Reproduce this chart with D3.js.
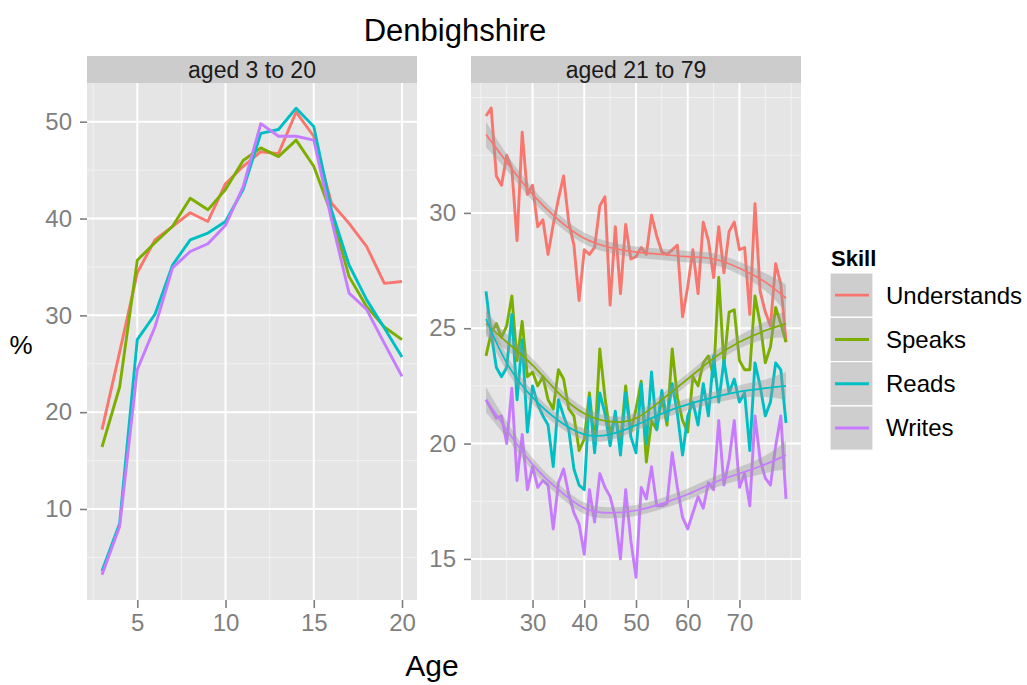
<!DOCTYPE html>
<html lang="en">
<head>
<meta charset="UTF-8">
<title>Denbighshire</title>
<script src="https://d3js.org/d3.v7.min.js"></script>
<style>
  body { margin: 0; background: #fff; }
  text { font-family: "Liberation Sans", Arial, sans-serif; }
</style>
</head>
<body>
<svg id="chart" width="1027" height="685"></svg>
<script>
// ---- data ----
const skills = ["Understands", "Speaks", "Reads", "Writes"];
const colours = ["#F8766D", "#7CAE00", "#00BFC4", "#C77CFF"];

const youngAges = d3.range(3, 21);   // 3..20
const youngUnderstands = [18.2, 26.2, 34.4, 37.8, 39.2, 40.6, 39.7, 43.6, 45.4, 46.9, 46.7, 51.0, 48.5, 41.6, 39.5, 37.1, 33.3, 33.5];
const youngSpeaks      = [16.4, 22.6, 35.7, 37.5, 39.2, 42.1, 40.9, 43.0, 46.0, 47.3, 46.4, 48.1, 45.4, 40.5, 34.0, 30.9, 28.8, 27.5];
const youngReads       = [3.6, 8.5, 27.5, 30.1, 35.2, 37.8, 38.5, 39.7, 43.0, 48.8, 49.2, 51.4, 49.5, 40.9, 35.2, 31.6, 28.7, 25.7];
const youngWrites      = [3.2, 8.2, 24.4, 28.8, 34.9, 36.6, 37.4, 39.3, 43.3, 49.8, 48.5, 48.5, 48.1, 39.9, 32.3, 30.6, 27.1, 23.7];

const oldAges = d3.range(21, 80);    // 21..79
const oldUnderstands = [34.2, 34.55, 31.6, 31.2, 32.5, 31.9, 28.8, 33.5, 30.8, 31.2,
                        29.4, 29.7, 28.2, 29.5, 30.6, 31.6, 29.6, 28.6, 26.2, 28.4,
                        28.2, 28.5, 30.3, 30.7, 26.0, 29.4, 26.5, 29.5, 28.0, 28.1,
                        28.5, 28.2, 29.9, 29.0, 28.3, 28.2, 28.4, 28.6, 25.5, 26.8,
                        28.4, 26.5, 29.6, 28.8, 27.2, 29.4, 27.4, 29.2, 29.6, 28.4,
                        28.5, 25.6, 30.4, 26.6, 25.7, 25.1, 27.8, 26.9, 24.4];
const oldSpeaks = [23.8, 24.8, 25.2, 24.6, 25.1, 26.4, 23.6, 25.3, 22.9, 23.1,
                   22.5, 22.9, 21.9, 21.5, 23.2, 22.8, 21.5, 21.2, 19.7, 20.2,
                   22.2, 19.9, 24.1, 22.0, 20.4, 21.2, 20.0, 22.5, 20.5, 21.5,
                   22.7, 19.2, 21.0, 20.6, 22.0, 20.8, 24.1, 22.0, 21.0, 20.5,
                   22.9, 22.5, 23.5, 23.8, 22.9, 27.2, 23.4, 25.7, 25.8, 23.6,
                   23.2, 23.2, 26.4, 25.2, 23.5, 24.2, 25.9, 25.2, 24.4];
const oldReads = [26.6, 24.8, 23.3, 22.9, 23.3, 25.6, 21.9, 24.5, 20.5, 22.5,
                  21.7, 21.2, 20.8, 19.0, 21.9, 21.2, 20.6, 18.9, 18.2, 18.0,
                  22.0, 19.6, 22.2, 21.3, 19.9, 21.4, 19.5, 22.2, 20.3, 19.6,
                  22.6, 20.0, 23.1, 20.6, 22.3, 21.0, 22.6, 21.3, 19.5, 21.2,
                  21.8, 20.8, 22.6, 21.2, 23.8, 21.8, 23.6, 22.2, 22.8, 21.8,
                  22.2, 19.7, 23.5, 22.5, 21.2, 21.8, 23.5, 23.2, 20.9];
const oldWrites = [21.9, 21.5, 21.1, 21.2, 20.0, 22.4, 18.4, 20.4, 18.0, 19.0,
                   18.1, 18.4, 18.2, 16.3, 18.3, 18.9, 17.8, 17.0, 16.5, 15.2,
                   18.0, 16.6, 18.7, 18.1, 17.7, 16.8, 15.0, 18.0, 15.8, 14.2,
                   18.1, 17.6, 19.0, 17.3, 17.3, 17.4, 19.6, 18.1, 16.8, 16.3,
                   17.0, 17.7, 17.2, 18.3, 18.0, 21.0, 18.2, 19.3, 21.0, 18.1,
                   18.7, 17.3, 21.2, 19.3, 18.5, 18.2, 19.9, 21.2, 17.6];

// loess smooth and half width of its grey band
const smoothAges = [21, 25, 30, 35, 40, 45, 50, 55, 60, 65, 70, 75, 79];
const smoothUnderstands = [33.4, 32.2, 30.8, 29.7, 28.9, 28.5, 28.3, 28.2, 28.1, 28.0, 27.6, 27.0, 26.3];
const smoothSpeaks      = [25.2, 24.4, 23.4, 22.2, 21.3, 20.95, 21.1, 21.9, 22.8, 23.7, 24.4, 24.9, 25.2];
const smoothReads       = [25.4, 23.5, 22.0, 21.0, 20.4, 20.4, 20.8, 21.3, 21.7, 22.0, 22.25, 22.4, 22.5];
const smoothWrites      = [21.9, 20.6, 19.1, 18.0, 17.2, 17.0, 17.1, 17.4, 17.8, 18.3, 18.7, 19.1, 19.5];
const smoothBand        = [0.55, 0.35, 0.28, 0.25, 0.25, 0.24, 0.24, 0.24, 0.25, 0.25, 0.28, 0.38, 0.6];

const youngSeries = [youngUnderstands, youngSpeaks, youngReads, youngWrites];
const oldSeries = [oldUnderstands, oldSpeaks, oldReads, oldWrites];
const smoothSeries = [smoothUnderstands, smoothSpeaks, smoothReads, smoothWrites];

// ---- layout ----
const svg = d3.select("#chart");
const plotTop = 83, plotBottom = 600, stripTop = 56;
const panels = [
  { x0: 87, x1: 417, label: "aged 3 to 20", xdom: [2.15, 20.85], ydom: [0.6, 54.0],
    xt: [5, 10, 15, 20], xm: [2.5, 7.5, 12.5, 17.5], yt: [10, 20, 30, 40, 50], ym: [5, 15, 25, 35, 45] },
  { x0: 471, x1: 801, label: "aged 21 to 79", xdom: [18.1, 81.9], ydom: [13.22, 35.63],
    xt: [30, 40, 50, 60, 70], xm: [20, 25, 35, 45, 55, 65, 75, 80], yt: [15, 20, 25, 30], ym: [17.5, 22.5, 27.5, 32.5, 35] }
];

panels.forEach((p, pi) => {
  const x = d3.scaleLinear().domain(p.xdom).range([p.x0, p.x1]);
  const y = d3.scaleLinear().domain(p.ydom).range([plotBottom, plotTop]);
  const g = svg.append("g");

  // strip
  g.append("rect").attr("x", p.x0).attr("y", stripTop).attr("width", p.x1 - p.x0).attr("height", plotTop - stripTop).attr("fill", "#CCCCCC");
  g.append("text").attr("x", (p.x0 + p.x1) / 2).attr("y", 70).attr("dy", "0.35em")
    .attr("text-anchor", "middle").attr("font-size", 23).attr("fill", "#1A1A1A").text(p.label);

  // panel
  g.append("rect").attr("x", p.x0).attr("y", plotTop).attr("width", p.x1 - p.x0).attr("height", plotBottom - plotTop).attr("fill", "#E5E5E5");
  g.selectAll(".vmin").data(p.xm).enter().append("line")
    .attr("x1", d => x(d)).attr("x2", d => x(d)).attr("y1", plotTop).attr("y2", plotBottom)
    .attr("stroke", "#F2F2F2").attr("stroke-width", 1);
  g.selectAll(".hmin").data(p.ym).enter().append("line")
    .attr("y1", d => y(d)).attr("y2", d => y(d)).attr("x1", p.x0).attr("x2", p.x1)
    .attr("stroke", "#F2F2F2").attr("stroke-width", 1);
  g.selectAll(".vmaj").data(p.xt).enter().append("line")
    .attr("x1", d => x(d)).attr("x2", d => x(d)).attr("y1", plotTop).attr("y2", plotBottom)
    .attr("stroke", "#FFFFFF").attr("stroke-width", 2);
  g.selectAll(".hmaj").data(p.yt).enter().append("line")
    .attr("y1", d => y(d)).attr("y2", d => y(d)).attr("x1", p.x0).attr("x2", p.x1)
    .attr("stroke", "#FFFFFF").attr("stroke-width", 2);

  // axes
  const ax = g.append("g").attr("transform", `translate(0,${plotBottom})`)
    .call(d3.axisBottom(x).tickValues(p.xt).tickSize(8).tickPadding(6).tickSizeOuter(0));
  const ay = g.append("g").attr("transform", `translate(${p.x0},0)`)
    .call(d3.axisLeft(y).tickValues(p.yt).tickSize(7).tickPadding(8).tickSizeOuter(0));
  [ax, ay].forEach(a => {
    a.select(".domain").remove();
    a.selectAll(".tick line").attr("stroke", "#7F7F7F").attr("stroke-width", 1.6);
    a.selectAll(".tick text").attr("fill", "#7F7F7F").attr("font-size", 24)
      .attr("font-family", '"Liberation Sans", Arial, sans-serif');
  });

  const clip = "clip" + pi;
  svg.append("clipPath").attr("id", clip).append("rect")
    .attr("x", p.x0).attr("y", plotTop).attr("width", p.x1 - p.x0).attr("height", plotBottom - plotTop);
  const plot = g.append("g").attr("clip-path", `url(#${clip})`);

  if (pi === 0) {
    const line = d3.line().x((d, i) => x(youngAges[i])).y(d => y(d));
    youngSeries.forEach((s, k) => {
      plot.append("path").attr("d", line(s)).attr("fill", "none")
        .attr("stroke", colours[k]).attr("stroke-width", 2.9).attr("stroke-linejoin", "round");
    });
  } else {
    const line = d3.line().x((d, i) => x(oldAges[i])).y(d => y(d));
    oldSeries.forEach((s, k) => {
      plot.append("path").attr("d", line(s)).attr("fill", "none")
        .attr("stroke", colours[k]).attr("stroke-width", 2.9).attr("stroke-linejoin", "round");
    });
    const band = d3.area().curve(d3.curveNatural)
      .x((d, i) => x(smoothAges[i]))
      .y0((d, i) => y(d - smoothBand[i])).y1((d, i) => y(d + smoothBand[i]));
    const sline = d3.line().curve(d3.curveNatural)
      .x((d, i) => x(smoothAges[i])).y(d => y(d));
    smoothSeries.forEach((s, k) => {
      plot.append("path").attr("d", band(s)).attr("fill", "#999999").attr("fill-opacity", 0.4);
      plot.append("path").attr("d", sline(s)).attr("fill", "none")
        .attr("stroke", colours[k]).attr("stroke-width", 1.7);
    });
  }
});

// titles
svg.append("text").attr("x", 455).attr("y", 30).attr("dy", "0.35em").attr("text-anchor", "middle")
  .attr("font-size", 31).attr("fill", "#000").text("Denbighshire");
svg.append("text").attr("x", 432).attr("y", 665).attr("dy", "0.35em").attr("text-anchor", "middle")
  .attr("font-size", 30).attr("fill", "#000").text("Age");
svg.append("text").attr("x", 21).attr("y", 345).attr("dy", "0.35em").attr("text-anchor", "middle")
  .attr("font-size", 26).attr("fill", "#000").text("%");

// legend
const legend = svg.append("g");
legend.append("text").attr("x", 831).attr("y", 258).attr("dy", "0.35em")
  .attr("font-size", 22).attr("font-weight", "bold").attr("fill", "#000").text("Skill");
const keyH = 44.3, keyTop = 273;
skills.forEach((s, k) => {
  const ky = keyTop + k * keyH;
  legend.append("rect").attr("x", 830).attr("y", ky).attr("width", 43).attr("height", keyH)
    .attr("fill", "#CECECE").attr("stroke", "#FFFFFF").attr("stroke-width", 1.2);
  legend.append("line").attr("x1", 835).attr("x2", 869).attr("y1", ky + keyH / 2).attr("y2", ky + keyH / 2)
    .attr("stroke", colours[k]).attr("stroke-width", 2.9);
  legend.append("text").attr("x", 886).attr("y", ky + keyH / 2).attr("dy", "0.35em")
    .attr("font-size", 24).attr("fill", "#000").text(s);
});
</script>
</body>
</html>
